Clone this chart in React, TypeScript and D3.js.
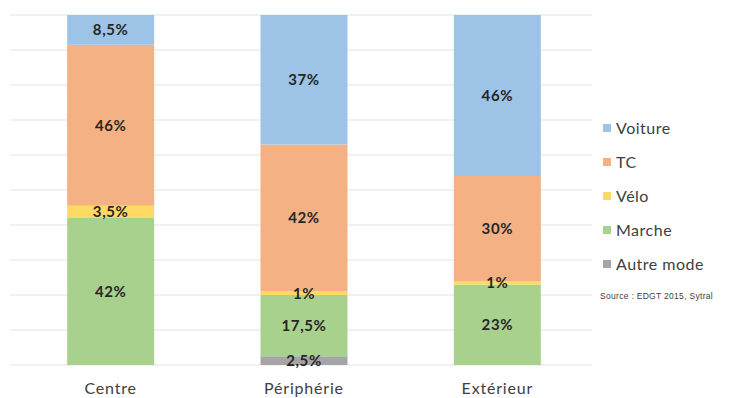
import React from "react";
import * as d3 from "d3";

const categories = ["Centre", "Périphérie", "Extérieur"];
const modes = ["Autre mode", "Marche", "Vélo", "TC", "Voiture"];
const autre = [0, 2.5, 0];
const marche = [42, 17.5, 23];
const velo = [3.5, 1, 1];
const tc = [46, 42, 30];
const voiture = [8.5, 37, 46];
const legendOrder = ["Voiture", "TC", "Vélo", "Marche", "Autre mode"];
const colors: Record<string, string> = {
  Voiture: "#9DC3E6",
  TC: "#F4B183",
  "Vélo": "#FFD966",
  Marche: "#A9D18E",
  "Autre mode": "#A5A5A5",
};
const yTicks = [0, 10, 20, 30, 40, 50, 60, 70, 80, 90, 100];
const source = "Source : EDGT 2015, Sytral";

const W = 738;
const H = 398;

export default function App() {
  const seriesValues: Record<string, number[]> = {
    "Autre mode": autre,
    Marche: marche,
    "Vélo": velo,
    TC: tc,
    Voiture: voiture,
  };
  const rows = categories.map((c, i) => {
    const r: any = { cat: c };
    modes.forEach((m) => (r[m] = seriesValues[m][i]));
    return r;
  });
  const stack = d3.stack<any>().keys(modes)(rows);
  const x = d3.scaleBand().domain(categories).range([14, 594]).paddingInner(0.55).paddingOuter(0.275);
  const y = d3.scaleLinear().domain([0, 100]).range([365, 15]);
  const fmt = (v: number) => String(v).replace(".", ",") + "%";
  const font = "Lato, 'Open Sans', sans-serif";

  return (
    <svg width={W} height={H} style={{ position: "absolute", left: 0, top: 0, background: "#fff" }}>
      <g>
        {yTicks.map((t) => (
          <line key={t} x1={10} x2={592} y1={y(t)} y2={y(t)} stroke="#e3e3e3" strokeWidth={1.2} />
        ))}
      </g>
      {stack.map((s) => (
        <g key={s.key} fill={colors[s.key]}>
          {s.map((d, i) =>
            d[1] - d[0] > 0 ? (
              <rect
                key={i}
                x={x(categories[i])!}
                width={x.bandwidth()}
                y={y(d[1])}
                height={y(d[0]) - y(d[1])}
              />
            ) : null
          )}
        </g>
      ))}
      {stack.map((s) => (
        <g key={s.key + "l"}>
          {s.map((d, i) =>
            d[1] - d[0] > 0 ? (
              <text
                key={i}
                x={x(categories[i])! + x.bandwidth() / 2}
                y={y((d[0] + d[1]) / 2)}
                dy="0.35em"
                textAnchor="middle"
                fontFamily={font}
                fontWeight="bold"
                fontSize={15}
                letterSpacing={0.6}
                fill="#262626"
              >
                {fmt(d[1] - d[0])}
              </text>
            ) : null
          )}
        </g>
      ))}
      {categories.map((c) => (
        <text
          key={c}
          x={x(c)! + x.bandwidth() / 2}
          y={388}
          dy="0.35em"
          textAnchor="middle"
          fontFamily={font}
          fontSize={16}
          letterSpacing={0.8}
          fill="#404040"
        >
          {c}
        </text>
      ))}
      {legendOrder.map((m, i) => (
        <g key={m} transform={`translate(603, ${128 + i * 34})`}>
          <rect x={0} y={-4} width={8} height={8} fill={colors[m]} />
          <text x={13} y={0} dy="0.35em" fontFamily={font} fontSize={16} letterSpacing={0.5} fill="#404040">
            {m}
          </text>
        </g>
      ))}
      <text x={600} y={296} dy="0.35em" fontFamily="'Liberation Sans', Arial, sans-serif" fontSize={8.5} letterSpacing={0.3} fill="#404040">
        {source}
      </text>
    </svg>
  );
}
